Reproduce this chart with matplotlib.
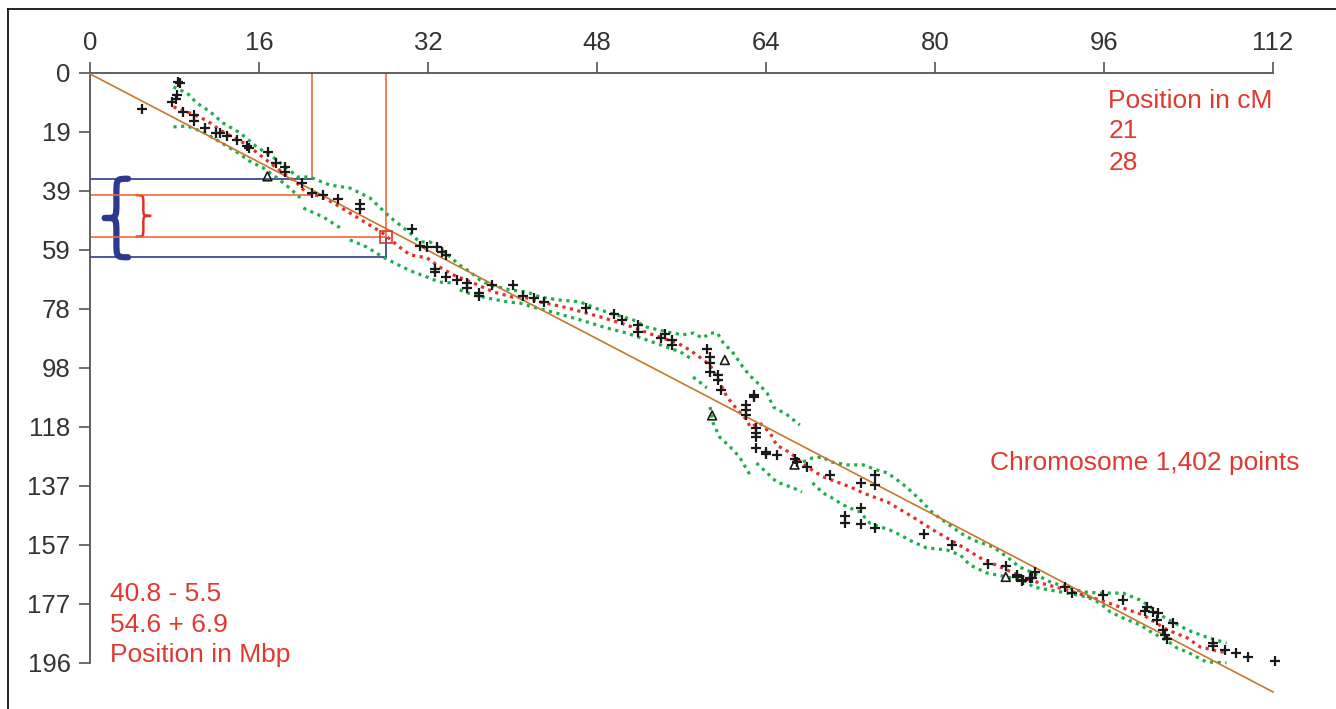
import numpy as np
import matplotlib.pyplot as plt
from matplotlib.path import Path
from matplotlib.patches import PathPatch
from matplotlib.lines import Line2D

plt.rcParams['font.family'] = ['Liberation Sans', 'DejaVu Sans']

nan = np.nan

# axis ticks
x_ticks = [0, 16, 32, 48, 64, 80, 96, 112]
y_max = 196.9
y_tick_labels = ['0', '19', '39', '59', '78', '98', '118', '137', '157', '177', '196']

# markers (cM, Mbp)
marker_cm = [4.9, 8.3, 8.5, 8.2, 8.1, 7.8, 8.8, 9.85, 9.85, 10.9,
             11.9, 12.3, 13.0, 13.9, 14.9, 15.1, 16.85, 17.6, 18.5, 18.5,
             20.1, 21.0, 22.1, 23.5, 25.6, 25.6, 30.5, 31.2, 31.95, 32.85,
             33.3, 33.75, 32.7, 32.7, 33.75, 34.7, 35.7, 35.7, 36.8, 36.8,
             38.1, 40.05, 41.0, 42.0, 43.0, 46.96, 49.6, 50.4, 51.9, 51.9,
             54.1, 54.4, 55.1, 55.1, 58.4, 58.7, 58.7, 58.7, 59.45, 59.45,
             59.7, 62.9, 62.9, 62.1, 62.1, 62.1, 63.1, 63.1, 63.1, 63.1,
             64.0, 64.0, 65.0, 66.7, 66.9, 67.9, 70.06, 73.0, 74.3, 74.3,
             73.0, 71.5, 71.5, 73.0, 74.3, 78.95, 81.6, 85.0, 86.7, 87.8,
             88.3, 89.0, 89.5, 87.8, 88.2, 89.2, 92.3, 93.0, 95.9, 97.8,
             100.1, 99.9, 100.6, 101.1, 101.0, 102.5, 101.6, 101.8, 102.0, 106.3,
             106.3, 107.45, 108.5, 109.6, 112.2]
marker_mbp = [12.0, 3.0, 3.3, 7.3, 8.7, 9.7, 13.0, 13.9, 15.9, 18.4,
              20.0, 20.0, 20.9, 22.4, 24.4, 25.0, 26.4, 30.0, 31.4, 33.2,
              36.7, 40.1, 40.7, 42.1, 43.6, 45.4, 52.1, 57.7, 58.1, 58.1,
              59.7, 60.7, 65.3, 66.4, 68.1, 69.1, 70.1, 71.9, 73.4, 74.4,
              70.6, 70.6, 74.6, 75.1, 76.4, 78.4, 80.4, 82.6, 84.1, 86.4,
              88.5, 87.1, 89.0, 90.8, 92.1, 94.8, 96.8, 99.8, 100.8, 102.5,
              105.8, 107.5, 108.1, 110.8, 112.5, 114.1, 118.5, 120.2, 121.5, 125.2,
              126.5, 127.3, 127.5, 128.8, 129.8, 131.5, 134.3, 136.7, 134.2, 137.5,
              145.2, 147.9, 150.2, 150.5, 151.9, 153.9, 157.5, 163.9, 164.6, 167.6,
              169.2, 168.6, 166.6, 168.2, 169.6, 168.6, 171.6, 173.6, 174.2, 175.9,
              178.2, 179.6, 179.9, 180.2, 182.6, 183.6, 185.9, 187.6, 188.9, 190.3,
              191.3, 192.6, 193.6, 194.9, 196.2]

tri_cm = [16.8, 60.1, 58.9, 66.7, 86.7]
tri_mbp = [34.5, 95.8, 114.3, 130.7, 168.2]

# fitted curve
red_cm = [7.9, 9.2, 10.4, 11.4, 12.3, 13.5, 14.9, 16.1, 17.3, 18.3,
          19.6, 20.5, 22.1, 24.6, 27.7, 29.3, 30.3, 31.9, 33.1, 34.4,
          36.3, 38.2, 40.0, 41.4, 42.6, 45.2, 48.3, 50.8, 53.3, 55.6,
          56.8, 57.7, 58.7, 59.4, 60.3, 61.3, 62.2, 62.5, 63.4, 64.4,
          65.0, 66.3, 67.9, 69.4, 72.0, 73.2, 75.5, 77.9, 79.8, 82.6,
          84.3, 86.8, 89.3, 92.5, 94.0, 95.6, 97.8, 99.7, 102.0, 103.9,
          105.1, 107.6]
red_mbp = [11.3, 13.0, 14.7, 16.7, 19.0, 21.4, 24.0, 27.4, 30.7, 33.4,
           36.7, 40.1, 41.4, 46.7, 53.4, 58.1, 60.7, 61.7, 64.8, 67.4,
           70.1, 73.1, 74.8, 75.1, 76.4, 78.4, 81.4, 84.1, 87.4, 90.1,
           92.5, 94.8, 97.5, 101.8, 108.1, 112.5, 115.8, 118.2, 116.8, 120.2,
           124.2, 126.8, 131.5, 134.8, 138.2, 140.2, 143.2, 148.2, 152.5, 158.2,
           161.9, 165.9, 169.6, 172.6, 174.2, 175.9, 178.6, 180.9, 185.9, 188.6,
           191.6, 193.6]

# confidence band (nan = gap)
upper_cm = [7.9, 9.2, 10.1, 11.4, 12.6, 14.2, 15.8, 17.3, 18.9, 19.6,
            20.8, 22.7, 24.6, 26.5, 28.4, 30.3, 31.2, 32.2, 33.1, 34.1,
            35.0, 36.0, 36.9, 37.9, 39.8, 41.4, 42.6, 44.5, 46.4, 48.3,
            51.4, 52.7, 54.6, 56.1, 57.1, 58.0, 58.7, 59.4, 59.9, 60.9,
            61.8, 62.5, 63.1, 64.1, 64.7, 66.0, 67.2, nan,
            67.5, 68.4, 69.4, 70.1, 71.7, 73.2, 74.5, 75.5, 76.4, 77.3,
            78.6, 79.8, 81.1, 82.4, 83.6, 85.5, 86.8, 88.0, 89.3, 90.9,
            92.5, 94.0, 95.6, 97.8, 99.4, 100.4, 101.3, 102.5, 103.9, 105.7, 107.6]
upper_mbp = [4.7, 6.7, 10.0, 13.0, 16.7, 20.0, 24.7, 28.0, 32.4, 34.7,
             34.7, 37.4, 38.4, 41.7, 48.1, 53.4, 56.4, 56.4, 58.4, 61.4,
             64.1, 66.4, 69.1, 70.8, 72.4, 73.1, 74.8, 75.8, 76.4, 79.1,
             82.4, 84.8, 86.4, 87.4, 86.8, 88.5, 86.8, 86.8, 89.8, 93.5,
             98.1, 101.1, 103.1, 106.8, 111.5, 114.1, 117.5, nan,
             129.8, 128.5, 128.2, 129.8, 130.8, 130.8, 132.5, 133.5, 135.8, 138.2,
             142.5, 146.9, 150.2, 153.5, 155.9, 158.2, 161.5, 164.9, 166.9, 169.9,
             171.6, 173.2, 173.6, 173.6, 175.9, 178.2, 180.9, 183.2, 185.9, 188.3, 190.3]

lower_cm = [7.9, 9.2, 10.7, 12.3, 13.9, 15.1, 16.4, 17.7, 18.9, 19.9, nan,
            20.2, 22.1, 24.0, nan,
            24.6, 26.2, 27.7, 29.6, 30.6, 31.9, 33.1, 34.4, nan,
            35.0, 36.3, 37.6, 39.5, 40.7, 41.9, 43.8, 46.4, 48.9, 50.8, 52.7, 54.6, 55.9, 57.1, nan,
            57.1, 57.7, 58.4, nan,
            58.7, 59.0, 59.6, 60.6, 61.5, 62.2, 62.5, nan,
            63.1, 64.1, 65.0, 66.6, 67.4, nan,
            68.4, 69.4, 70.1, 71.0, 71.7, 72.9, 73.8, 74.8, 75.7, 76.7,
            77.9, 79.2, 81.1, 82.4, 83.3, 84.9, 86.8, 88.7, 89.3, 92.5,
            94.4, 95.6, 96.6, 97.8, 99.4, 100.6, 101.9, 102.9, 103.9, 105.7, 107.6]
lower_mbp = [18.0, 17.7, 19.7, 23.0, 26.4, 29.4, 31.7, 35.0, 38.4, 41.7, nan,
             45.1, 48.1, 52.4, nan,
             55.7, 58.1, 61.4, 64.8, 66.4, 68.1, 69.8, 70.1, nan,
             72.4, 74.1, 75.1, 76.4, 76.8, 78.1, 79.8, 82.4, 85.1, 86.8, 89.1, 91.5, 93.1, 95.8, nan,
             101.5, 103.1, 105.1, nan,
             111.5, 116.8, 121.5, 124.8, 128.2, 132.5, 134.2, nan,
             130.2, 133.5, 136.5, 138.5, 139.9, nan,
             136.8, 140.2, 141.5, 143.5, 144.9, 146.5, 150.2, 151.5, 152.5, 154.2,
             156.5, 158.5, 159.2, 160.9, 164.2, 166.9, 168.2, 169.9, 171.6, 173.6,
             174.9, 176.9, 179.9, 181.9, 184.2, 186.9, 189.3, 191.9, 193.3, 196.6, 196.9]

# straight reference line
diag_cm = [0, 112]
diag_mbp = [0.3, 206.6]

# selected interval
cm_sel = [21, 28]
mbp_sel = [40.8, 54.6]
mbp_err = [5.5, 6.9]

RED = '#e2312a'
GREEN = '#1fae4b'
ORANGE = '#f06a3c'
BLUE = '#2b3990'
TXT = '#e03a30'


def brace(ax, x_arm, x_tip, y0, y1, color, lw):
    xm = (x_arm + x_tip) / 2
    ym = (y0 + y1) / 2
    r = (y1 - y0) * 0.2
    verts = [(x_arm, y0), (xm, y0), (xm, y0), (xm, y0 + r),
             (xm, ym - r), (xm, ym), (xm, ym), (x_tip, ym),
             (xm, ym), (xm, ym), (xm, ym + r),
             (xm, y1 - r), (xm, y1), (xm, y1), (x_arm, y1)]
    codes = [Path.MOVETO, Path.CURVE4, Path.CURVE4, Path.CURVE4,
             Path.LINETO, Path.CURVE4, Path.CURVE4, Path.CURVE4,
             Path.CURVE4, Path.CURVE4, Path.CURVE4,
             Path.LINETO, Path.CURVE4, Path.CURVE4, Path.CURVE4]
    ax.add_patch(PathPatch(Path(verts, codes), fill=False, edgecolor=color,
                           lw=lw, capstyle='round', joinstyle='round'))


fig = plt.figure(figsize=(13.36, 7.09), dpi=100)
ax = fig.add_axes([90 / 1336, 0, 1183 / 1336, 636 / 709])
ax.set_xlim(0, 112)
ax.set_ylim(212.3, 0)

# frame around the figure
fig.add_artist(Line2D([8 / 1336, 1], [1 - 9 / 709, 1 - 9 / 709], color='black', lw=1.2))
fig.add_artist(Line2D([8 / 1336, 8 / 1336], [0, 1 - 9 / 709], color='black', lw=1.2))

# selection lines
ax.plot([cm_sel[0], cm_sel[0]], [0, mbp_sel[0] - mbp_err[0]], color=ORANGE, lw=1.2)
ax.plot([cm_sel[1], cm_sel[1]], [0, mbp_sel[1]], color=ORANGE, lw=1.2)
ax.plot([cm_sel[1], cm_sel[1]], [mbp_sel[1], mbp_sel[1] + mbp_err[1]], color=BLUE, lw=1.2)
ax.plot([0, cm_sel[0]], [mbp_sel[0] - mbp_err[0]] * 2, color=BLUE, lw=1.2)
ax.plot([0, cm_sel[0]], [mbp_sel[0]] * 2, color=ORANGE, lw=1.2)
ax.plot([0, cm_sel[1]], [mbp_sel[1]] * 2, color=ORANGE, lw=1.2)
ax.plot([0, cm_sel[1]], [mbp_sel[1] + mbp_err[1]] * 2, color=BLUE, lw=1.2)

brace(ax, 3.6, 1.4, mbp_sel[0] - mbp_err[0], mbp_sel[1] + mbp_err[1], BLUE, 4.5)
brace(ax, 4.4, 5.7, mbp_sel[0], mbp_sel[1], RED, 1.8)

ax.plot(diag_cm, diag_mbp, color='#c8772a', lw=1.2, clip_on=False, zorder=3)

dots = (0, (1, 1.4))
ax.plot(upper_cm, upper_mbp, color=GREEN, lw=2.3, ls=dots, zorder=2)
ax.plot(lower_cm, lower_mbp, color=GREEN, lw=2.3, ls=dots, zorder=2)
ax.plot(red_cm, red_mbp, color=RED, lw=2.3, ls=dots, zorder=2)

ax.scatter(marker_cm, marker_mbp, marker='+', s=45, linewidths=1.6,
           color='#1a1a1a', zorder=4, clip_on=False)
ax.scatter(tri_cm, tri_mbp, marker='^', s=40, facecolors='none',
           edgecolors='#1a1a1a', linewidths=1.2, zorder=4)
ax.plot([cm_sel[1]], [mbp_sel[1]], marker='s', ms=8, mfc='none', mec=RED,
        mew=1.2, zorder=5)

# texts
ax.text(96.4, 9.3, 'Position in cM', color=TXT, fontsize=19, va='center', ha='left')
ax.text(96.4, 19.4, str(cm_sel[0]), color=TXT, fontsize=19, va='center', ha='left')
ax.text(96.4, 30.0, str(cm_sel[1]), color=TXT, fontsize=19, va='center', ha='left')
ax.text(114.5, 130.2, 'Chromosome 1,402 points', color=TXT, fontsize=19,
        va='center', ha='right')
ax.text(1.9, 173.9, f'{mbp_sel[0]} - {mbp_err[0]}', color=TXT, fontsize=19, va='center')
ax.text(1.9, 184.2, f'{mbp_sel[1]} + {mbp_err[1]}', color=TXT, fontsize=19, va='center')
ax.text(1.9, 194.3, 'Position in Mbp', color=TXT, fontsize=19, va='center')

# axes styling
for side in ['right', 'bottom']:
    ax.spines[side].set_visible(False)
for side in ['left', 'top']:
    ax.spines[side].set_color('#555555')
    ax.spines[side].set_linewidth(1.3)
ax.spines['left'].set_bounds(0, y_max)
ax.xaxis.tick_top()
ax.set_xticks(x_ticks)
ax.set_xticklabels([str(t) for t in x_ticks])
ax.set_yticks(np.linspace(0, y_max, len(y_tick_labels)))
ax.set_yticklabels(y_tick_labels)
ax.tick_params(axis='both', length=8, width=1.2, color='#555555',
               labelsize=18.5, labelcolor='#333333')
ax.tick_params(axis='x', pad=5)
ax.tick_params(axis='y', pad=6)

fig.savefig('out.png', dpi=100)
